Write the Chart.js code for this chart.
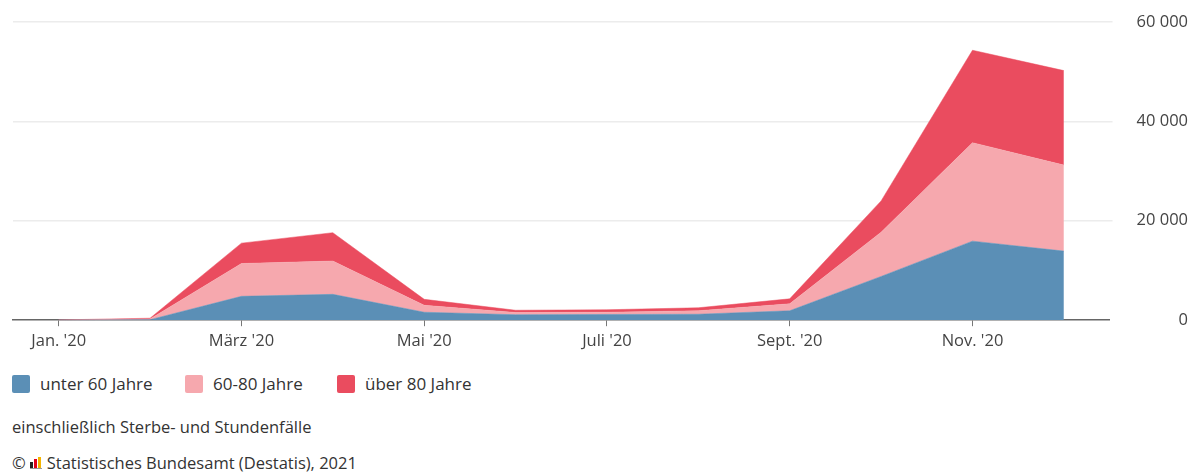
<!DOCTYPE html>
<html>
<head>
<meta charset="utf-8">
<script src="https://cdn.jsdelivr.net/npm/chart.js@4"></script>
<style>
  html, body { margin: 0; padding: 0; background: #fff; }
  body { width: 1196px; height: 475px; overflow: hidden; font-family: "Open Sans", "Noto Sans", sans-serif; color: #333; position: relative; }
  #wrap { position: relative; width: 1196px; height: 356px; }
  .legend .item { position: absolute; top: 372px; display: flex; align-items: center; font-size: 17px; color: #333; line-height: 24px; }
  .legend .sw { width: 18px; height: 18px; border-radius: 2px; margin-right: 10px; }
  .note { position: absolute; top: 415px; left: 12px; font-size: 16.5px; color: #333; line-height: 24px; }
  .src { position: absolute; top: 451px; left: 12px; font-size: 16.5px; color: #333; display: flex; align-items: center; line-height: 24px; }
  .logo { display: inline-flex; align-items: flex-end; height: 11px; margin: 0 5px 0 4px; border-bottom: 1px solid #999; }
  .logo span { display: inline-block; width: 3px; margin-right: 1px; }
</style>
</head>
<body>
<div id="wrap"><canvas id="c"></canvas></div>
<div class="legend">
  <div class="item" style="left:12px"><div class="sw" style="background:#5b8fb6"></div>unter 60 Jahre</div>
  <div class="item" style="left:185px"><div class="sw" style="background:#f6a8ae"></div>60-80 Jahre</div>
  <div class="item" style="left:337px"><div class="sw" style="background:#ea4c5f"></div>über 80 Jahre</div>
</div>
<div class="note">einschließlich Sterbe- und Stundenfälle</div>
<div class="src">©<span class="logo"><span style="height:6px;background:#222"></span><span style="height:9px;background:#e2001a"></span><span style="height:11px;background:#f4b400"></span></span>Statistisches Bundesamt (Destatis), 2021</div>
<script>
const months = ["Jan. '20", "Feb. '20", "März '20", "Apr. '20", "Mai '20", "Juni '20", "Juli '20", "Aug. '20", "Sept. '20", "Okt. '20", "Nov. '20", "Dez. '20"];
const unter60 = [10, 100, 4800, 5200, 1600, 1100, 1150, 1200, 1900, 8800, 15900, 13900];
const j60bis80 = [20, 150, 6600, 6700, 1400, 450, 450, 700, 1400, 8900, 19800, 17300];
const ueber80 = [20, 150, 4100, 5700, 1200, 450, 500, 600, 1000, 6300, 18600, 19000];
const yTicks = [0, 20000, 40000, 60000];

function fmt(v) { return String(v).replace(/\B(?=(\d{3})+(?!\d))/g, " "); }

new Chart(document.getElementById('c'), {
  type: 'line',
  data: {
    labels: months,
    datasets: [
      { label: 'unter 60 Jahre', data: unter60, backgroundColor: '#5b8fb6', borderColor: '#5b8fb6', fill: 'origin' },
      { label: '60-80 Jahre', data: j60bis80, backgroundColor: '#f6a8ae', borderColor: '#f6a8ae', fill: '-1' },
      { label: 'über 80 Jahre', data: ueber80, backgroundColor: '#ea4c5f', borderColor: '#ea4c5f', fill: '-1' }
    ]
  },
  options: {
    responsive: true,
    maintainAspectRatio: false,
    animation: false,
    elements: { point: { radius: 0, hoverRadius: 0 }, line: { borderWidth: 0.5, tension: 0 } },
    layout: { padding: { left: 13, right: 8, top: 5, bottom: 0 } },
    plugins: { legend: { display: false }, tooltip: { enabled: false } },
    scales: {
      x: {
        offset: true,
        grid: {
          drawOnChartArea: false,
          drawTicks: true,
          tickLength: 6,
          color: (ctx) => (ctx.index % 2 === 0 ? '#777' : 'rgba(0,0,0,0)')
        },
        border: { display: true, color: '#666', width: 1.5 },
        ticks: {
          autoSkip: false,
          maxRotation: 0,
          padding: 5,
          color: '#444',
          font: { family: "'Open Sans', 'Noto Sans', sans-serif", size: 16.5 },
          callback: function (v, i) { return i % 2 === 0 ? months[i] : ''; }
        }
      },
      y: {
        position: 'right',
        stacked: true,
        min: 0,
        max: 60000,
        afterBuildTicks: (axis) => { axis.ticks = yTicks.map(v => ({ value: v })); },
        grid: {
          color: (ctx) => (ctx.tick && ctx.tick.value === 0 ? 'rgba(0,0,0,0)' : '#ececec'),
          tickLength: 3,
          lineWidth: 1.5
        },
        border: { display: false },
        ticks: {
          crossAlign: 'far',
          padding: 12,
          color: '#444',
          font: { family: "'Open Sans', 'Noto Sans', sans-serif", size: 16.5 },
          callback: (v) => fmt(v)
        }
      }
    }
  }
});
</script>
</body>
</html>
